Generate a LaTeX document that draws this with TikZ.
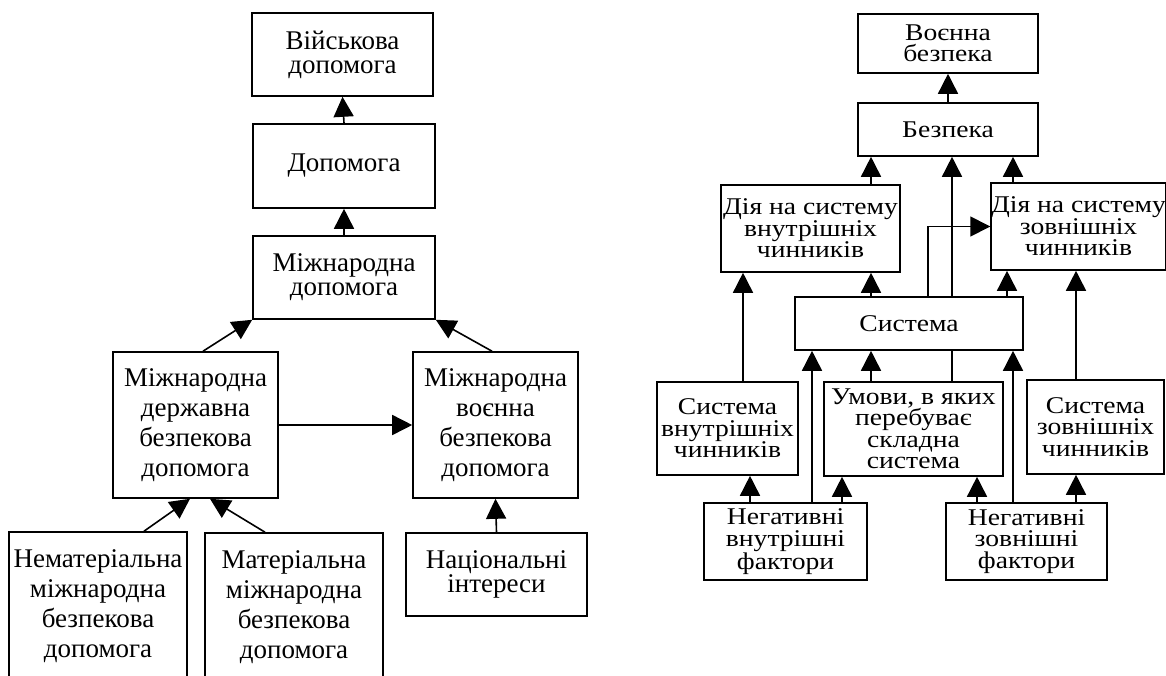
\documentclass[tikz,border=0pt]{standalone}
\usepackage{fontspec}
\setmainfont{Liberation Serif}
\newfontfamily\wideserif[FakeStretch=1.15]{Liberation Serif}
\usetikzlibrary{arrows.meta,backgrounds}
\tikzset{
  box/.style={draw, fill=white, line width=1.6pt, inner sep=0pt, align=center},
  lbig/.style={box, font=\fontsize{27}{30}\selectfont},
  lsmall/.style={box, font=\fontsize{27}{24}\selectfont},
  rbox/.style={box, font=\wideserif\fontsize{24}{21.5}\selectfont},
  arr/.style={line width=1.6pt, -{Triangle[length=20pt,width=20pt]}},
}
\begin{document}
\begin{tikzpicture}[x=1pt,y=-1pt]
\useasboundingbox (0,0) rectangle (1166,675);
% ---------- left diagram ----------
\node[lsmall, minimum width=181pt, minimum height=83pt] (mil) at (342.5,54.5) {Військова\\допомога};
\node[lsmall, minimum width=182pt, minimum height=84pt] (dop) at (344,166) {Допомога};
\node[lsmall, minimum width=182pt, minimum height=83pt] (mdop) at (344,277.5) {Міжнародна\\допомога};
\node[lbig, minimum width=165pt, minimum height=146pt] (mdb) at (195.5,425) {Міжнародна\\державна\\безпекова\\допомога};
\node[lbig, minimum width=165pt, minimum height=146pt] (mvb) at (495.5,425) {Міжнародна\\воєнна\\безпекова\\допомога};
\node[lbig, minimum width=178pt, minimum height=148pt] (nemat) at (98,606) {Нематеріальна\\міжнародна\\безпекова\\допомога};
\node[lbig, minimum width=178pt, minimum height=148pt] (mat) at (294,607) {Матеріальна\\міжнародна\\безпекова\\допомога};
\node[lsmall, minimum width=181pt, minimum height=83pt] (nat) at (496.5,574.5) {Національні\\інтереси};
% ---------- right diagram ----------
\node[rbox, minimum width=180pt, minimum height=59pt] (vb) at (948,43.5) {Воєнна\\безпека};
\node[rbox, minimum width=180pt, minimum height=53pt] (bez) at (948,129.5) {Безпека};
\node[rbox, minimum width=179pt, minimum height=87pt] (div) at (810.5,228.5) {Дія на систему\\внутрішніх\\чинників};
\node[rbox, minimum width=173pt, minimum height=87pt] (diz) at (1078.5,226.5) {Дія на систему\\зовнішніх\\чинників};
\node[rbox, minimum width=228pt, minimum height=53pt] (sys) at (909,323.5) {Система};
\node[rbox, minimum width=141pt, minimum height=93pt] (svn) at (727.5,428.5) {Система\\внутрішніх\\чинників};
\node[rbox, minimum width=179pt, minimum height=94pt] (umovy) at (913.5,429) {Умови, в яких\\перебуває\\складна\\система};
\node[rbox, minimum width=137pt, minimum height=94pt] (szv) at (1095.5,427) {Система\\зовнішніх\\чинників};
\node[rbox, minimum width=163pt, minimum height=77pt] (nvn) at (785.5,541.5) {Негативні\\внутрішні\\фактори};
\node[rbox, minimum width=161pt, minimum height=77pt] (nzv) at (1026.5,541.5) {Негативні\\зовнішні\\фактори};
% column coordinates
\coordinate (k743) at (743,0);
\coordinate (k750) at (750,0);
\coordinate (k812) at (812,0);
\coordinate (k842) at (842,0);
\coordinate (k871) at (871,0);
\coordinate (k928) at (928,0);
\coordinate (k952) at (952,0);
\coordinate (k977) at (977,0);
\coordinate (k1007) at (1007,0);
\coordinate (k1013) at (1013,0);
\coordinate (k1076) at (1076,0);
\begin{scope}[on background layer]
% left connectors
\draw[arr] (dop.north) -- (mil.south);
\draw[arr] (mdop.north) -- (dop.south);
\draw[arr] ([xshift=7.5pt]mdb.north) -- (mdop.south west);
\draw[arr] ([xshift=-3.5pt]mvb.north) -- (mdop.south east);
\draw[arr] (mdb.east) -- (mvb.west);
\draw[arr] ([xshift=46pt]nemat.north) -- ([xshift=-5.5pt]mdb.south);
\draw[arr] ([xshift=-29pt]mat.north) -- ([xshift=14.5pt]mdb.south);
\draw[arr] (nat.north) -- (mvb.south);
% right connectors
\draw[arr] (bez.north) -- (vb.south);
\draw[arr] (div.north -| k871) -- (bez.south -| k871);
\draw[arr] (umovy.north -| k952) -- (bez.south -| k952);
\draw[arr] (diz.north -| k1013) -- (bez.south -| k1013);
\draw[arr] (sys.north -| k871) -- (div.south -| k871);
\draw[arr] (sys.north -| k1007) -- (diz.south -| k1007);
\draw[arr] (sys.north -| k928) |- (diz.west);
\draw[arr] (svn.north -| k743) -- (div.south -| k743);
\draw[arr] (szv.north -| k1076) -- (diz.south -| k1076);
\draw[arr] (umovy.north -| k871) -- (sys.south -| k871);
\draw[arr] (nvn.north -| k750) -- (svn.south -| k750);
\draw[arr] (nvn.north -| k812) -- (sys.south -| k812);
\draw[arr] (nvn.north -| k842) -- (umovy.south -| k842);
\draw[arr] (nzv.north -| k977) -- (umovy.south -| k977);
\draw[arr] (nzv.north -| k1013) -- (sys.south -| k1013);
\draw[arr] (nzv.north -| k1076) -- (szv.south -| k1076);
\end{scope}
\end{tikzpicture}
\end{document}
